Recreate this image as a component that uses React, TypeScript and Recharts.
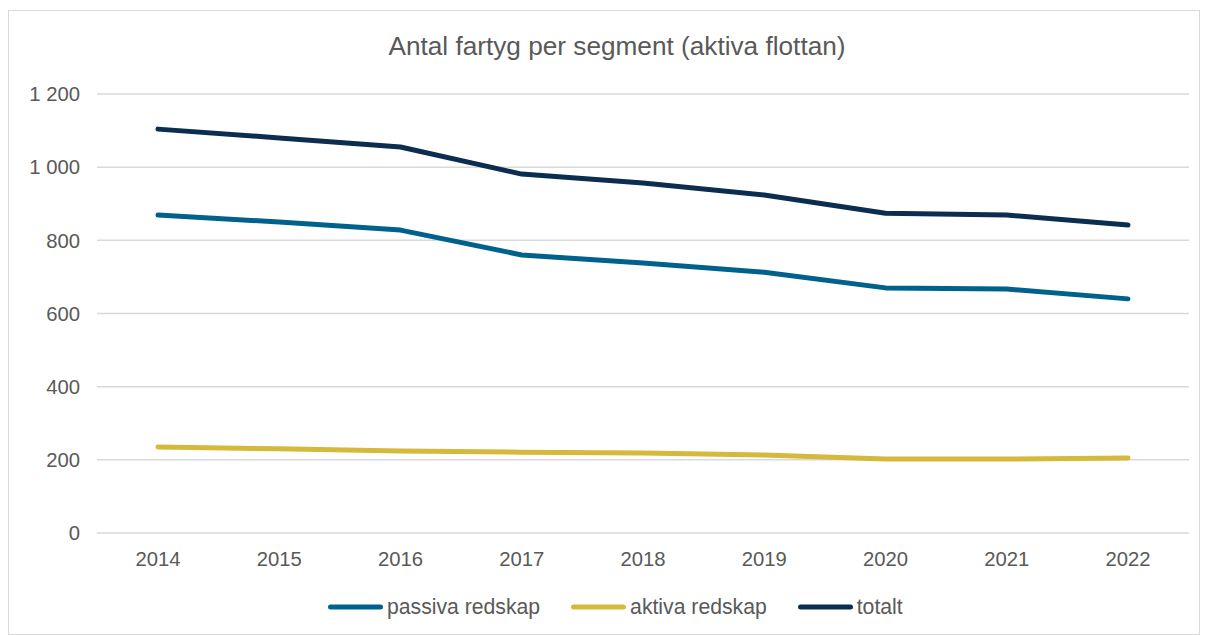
import React from "react";
import { LineChart, Line, XAxis, YAxis, CartesianGrid } from "recharts";

const years = ["2014", "2015", "2016", "2017", "2018", "2019", "2020", "2021", "2022"];
const passiva = [869, 850, 828, 760, 738, 713, 670, 667, 640];
const aktiva = [235, 230, 224, 221, 219, 213, 202, 202, 205];
const totalt = [1104, 1080, 1055, 981, 957, 924, 874, 869, 842];
const yTicks = [0, 200, 400, 600, 800, 1000, 1200];

const seriesNames = ["passiva redskap", "aktiva redskap", "totalt"];
const seriesKeys = ["passiva", "aktiva", "totalt"];
const seriesColors = ["#00628C", "#D4B93A", "#0B2D4F"];

const data = years.map((y, i) => ({
  year: y,
  passiva: passiva[i],
  aktiva: aktiva[i],
  totalt: totalt[i],
}));

const fmt = (v: number) => {
  const s = String(v);
  return s.length > 3 ? s.slice(0, s.length - 3) + "\u00A0" + s.slice(-3) : s;
};

const FONT = "'Liberation Sans', Arial, sans-serif";

export default function App() {
  return (
    <div
      style={{
        position: "relative",
        width: 1192,
        height: 625,
        marginTop: 2,
        border: "1px solid #d9d9d9",
        boxSizing: "border-box",
        fontFamily: FONT,
        background: "#fff",
      }}
    >
      <div
        style={{
          position: "absolute",
          left: 13,
          width: 1190,
          top: 20,
          textAlign: "center",
          fontSize: 26.2,
          lineHeight: "30px",
          color: "#595959",
        }}
      >
        Antal fartyg per segment (aktiva flottan)
      </div>
      <LineChart
        width={1190}
        height={623}
        data={data}
        margin={{ top: 83, right: 10, bottom: 71, left: 0 }}
        style={{ position: "absolute", left: 0, top: 0 }}
      >
        <CartesianGrid vertical={false} stroke="#d9d9d9" strokeWidth={1.5} />
        <XAxis
          dataKey="year"
          axisLine={false}
          tickLine={false}
          padding={{ left: 61, right: 61 }}
          tick={{ fill: "#595959", fontSize: 20.3, fontFamily: FONT }}
          tickMargin={13}
        />
        <YAxis
          width={88}
          domain={[0, 1200]}
          ticks={yTicks}
          tickFormatter={fmt}
          axisLine={false}
          tickLine={false}
          tick={{ fill: "#595959", fontSize: 20.3, fontFamily: FONT }}
          tickMargin={11}
        />
        {seriesKeys.map((k, i) => (
          <Line
            key={k}
            dataKey={k}
            name={seriesNames[i]}
            stroke={seriesColors[i]}
            strokeWidth={5}
            strokeLinecap="round"
            strokeLinejoin="round"
            dot={false}
            activeDot={false}
            isAnimationActive={false}
          />
        ))}
      </LineChart>
      <div
        style={{
          position: "absolute",
          left: 316,
          top: 583,
          display: "flex",
          fontSize: 21.2,
          lineHeight: "26px",
          color: "#595959",
        }}
      >
        {seriesNames.map((n, i) => (
          <div key={n} style={{ display: "flex", alignItems: "center", marginRight: i < 2 ? 28 : 0 }}>
            <svg width={62} height={10} style={{ display: "block" }}>
              <line x1={5.5} y1={5} x2={55.5} y2={5} stroke={seriesColors[i]} strokeWidth={5} strokeLinecap="round" />
            </svg>
            <span>{n}</span>
          </div>
        ))}
      </div>
    </div>
  );
}
